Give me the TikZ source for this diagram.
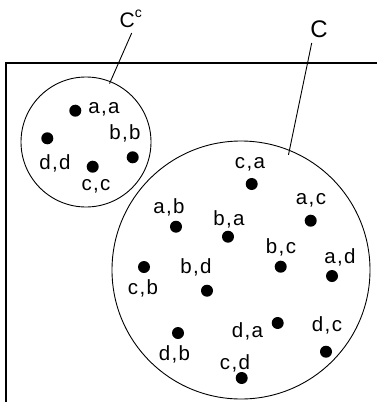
\documentclass[tikz,border=0pt]{standalone}
\usepackage{fontspec}
\setmainfont{Liberation Sans}
\newcommand\pairlbl[2]{#1\kern1.4pt,\kern1.4pt#2}
\begin{document}
\begin{tikzpicture}[x=1pt,y=-1pt,
  setcircle/.style={draw,circle,line width=0.9pt,inner sep=0pt},
  elem/.style={circle,fill=black,inner sep=0pt,minimum size=12pt},
  lbl/.style={anchor=base,inner sep=0pt,font=\fontsize{20.5}{22}\selectfont},
  leader/.style={line width=0.9pt},
  frame/.style={line width=1.8pt}]
\useasboundingbox (0,0) rectangle (377,402);

% outer frame (top and left edges)
\coordinate (fbl) at (6,402);
\coordinate (ftl) at (6,63);
\coordinate (ftr) at (377,63);
\draw[frame] (fbl) -- (ftl) -- (ftr);

% the two sets
\node[setcircle,minimum size=130pt] (small) at (86,142) {};
\node[setcircle,minimum size=258pt] (big) at (241,270) {};

% set names and leaders
\node[anchor=base west,inner sep=0pt,font=\fontsize{21}{23}\selectfont] (cclbl) at (119.5,27)
  {C\raisebox{10pt}{\fontsize{14}{15}\selectfont c}};
\node[anchor=base,inner sep=0pt,font=\fontsize{24}{26}\selectfont] (clbl) at (319,37.7) {C};
\coordinate (ccstart) at (131.7,33);
\coordinate (cstart) at (311.7,43);
\draw[leader,shorten >=-2.5pt] (ccstart) -- (small.68);
\draw[leader,shorten >=-5pt] (cstart) -- (big.68);

% elements of C^c
\node[elem] (aa) at (75.3,110.7) {};
\node[elem] (dd) at (47.3,138.3) {};
\node[elem] (cc) at (92.7,166.7) {};
\node[elem] (bb) at (132.7,157.3) {};
\node[lbl] (laa) at (104,113.3) {\pairlbl{a}{a}};
\node[lbl] (lbb) at (125,139.3) {\pairlbl{b}{b}};
\node[lbl] (ldd) at (55,169.3) {\pairlbl{d}{d}};
\node[lbl] (lcc) at (96,190.7) {\pairlbl{c}{c}};

% elements of C
\node[elem] (ca) at (251.7,184) {};
\node[elem] (ac) at (310.7,220.7) {};
\node[elem] (ab) at (176,226.7) {};
\node[elem] (ba) at (228,236.7) {};
\node[elem] (bc) at (280.7,266.7) {};
\node[elem] (ad) at (332,276) {};
\node[elem] (cb) at (144,267) {};
\node[elem] (bd) at (207,290.7) {};
\node[elem] (da) at (277.7,323) {};
\node[elem] (dc) at (326,351.7) {};
\node[elem] (db) at (178,333) {};
\node[elem] (cd) at (241.7,378) {};

\node[lbl] (lca) at (250,168.3) {\pairlbl{c}{a}};
\node[lbl] (lac) at (311,204) {\pairlbl{a}{c}};
\node[lbl] (lab) at (169,213.3) {\pairlbl{a}{b}};
\node[lbl] (lba) at (229,225) {\pairlbl{b}{a}};
\node[lbl] (lbc) at (281,253.3) {\pairlbl{b}{c}};
\node[lbl] (lad) at (340,263.3) {\pairlbl{a}{d}};
\node[lbl] (lcb) at (143,294) {\pairlbl{c}{b}};
\node[lbl] (lbd) at (196,273.3) {\pairlbl{b}{d}};
\node[lbl] (lda) at (247.5,337.3) {\pairlbl{d}{a}};
\node[lbl] (ldc) at (327,331.7) {\pairlbl{d}{c}};
\node[lbl] (ldb) at (174.5,360) {\pairlbl{d}{b}};
\node[lbl] (lcd) at (235,369.3) {\pairlbl{c}{d}};
\end{tikzpicture}
\end{document}
